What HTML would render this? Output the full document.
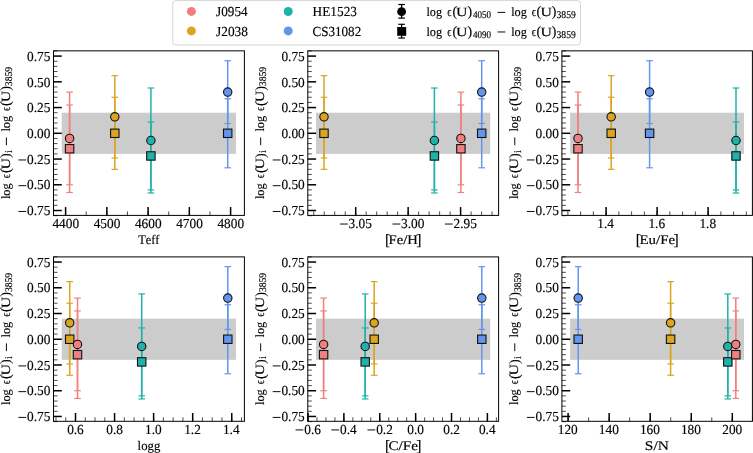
<!DOCTYPE html>
<html><head><meta charset="utf-8"><style>
html,body{margin:0;padding:0;background:#fff;width:753px;height:453px;overflow:hidden}
svg{display:block;will-change:transform}
text{font-family:"Liberation Serif", serif;fill:#000;font-kerning:none;text-rendering:geometricPrecision;stroke:#000;stroke-width:0.15px;stroke-linejoin:round}
</style></head><body>
<svg width="753" height="453" viewBox="0 0 753 453">
<rect width="753" height="453" fill="#fff"/>
<g>
<rect x="61.70" y="112.71" width="174.30" height="41.18" fill="#cccccc"/>
<line x1="227.70" y1="98.81" x2="227.70" y2="167.79" stroke="#6495ED" stroke-width="1.5"/>
<line x1="224.40" y1="98.81" x2="231.00" y2="98.81" stroke="#6495ED" stroke-width="1.2"/>
<line x1="224.40" y1="167.79" x2="231.00" y2="167.79" stroke="#6495ED" stroke-width="1.2"/>
<line x1="227.70" y1="60.72" x2="227.70" y2="123.52" stroke="#6495ED" stroke-width="1.5"/>
<line x1="224.40" y1="60.72" x2="231.00" y2="60.72" stroke="#6495ED" stroke-width="1.2"/>
<line x1="224.40" y1="123.52" x2="231.00" y2="123.52" stroke="#6495ED" stroke-width="1.2"/>
<rect x="223.50" y="129.10" width="8.4" height="8.4" fill="#6495ED" stroke="#111" stroke-width="1.1"/>
<circle cx="227.70" cy="92.12" r="4.2" fill="#6495ED" stroke="#111" stroke-width="1.1"/>
<line x1="150.90" y1="121.98" x2="150.90" y2="189.92" stroke="#20B2AA" stroke-width="1.5"/>
<line x1="147.60" y1="121.98" x2="154.20" y2="121.98" stroke="#20B2AA" stroke-width="1.2"/>
<line x1="147.60" y1="189.92" x2="154.20" y2="189.92" stroke="#20B2AA" stroke-width="1.2"/>
<line x1="150.90" y1="88.00" x2="150.90" y2="193.01" stroke="#20B2AA" stroke-width="1.5"/>
<line x1="147.60" y1="88.00" x2="154.20" y2="88.00" stroke="#20B2AA" stroke-width="1.2"/>
<line x1="147.60" y1="193.01" x2="154.20" y2="193.01" stroke="#20B2AA" stroke-width="1.2"/>
<rect x="146.70" y="151.75" width="8.4" height="8.4" fill="#20B2AA" stroke="#111" stroke-width="1.1"/>
<circle cx="150.90" cy="140.51" r="4.2" fill="#20B2AA" stroke="#111" stroke-width="1.1"/>
<line x1="114.80" y1="97.27" x2="114.80" y2="169.33" stroke="#DAA520" stroke-width="1.5"/>
<line x1="111.50" y1="97.27" x2="118.10" y2="97.27" stroke="#DAA520" stroke-width="1.2"/>
<line x1="111.50" y1="169.33" x2="118.10" y2="169.33" stroke="#DAA520" stroke-width="1.2"/>
<line x1="114.80" y1="75.65" x2="114.80" y2="158.01" stroke="#DAA520" stroke-width="1.5"/>
<line x1="111.50" y1="75.65" x2="118.10" y2="75.65" stroke="#DAA520" stroke-width="1.2"/>
<line x1="111.50" y1="158.01" x2="118.10" y2="158.01" stroke="#DAA520" stroke-width="1.2"/>
<rect x="110.60" y="129.10" width="8.4" height="8.4" fill="#DAA520" stroke="#111" stroke-width="1.1"/>
<circle cx="114.80" cy="116.83" r="4.2" fill="#DAA520" stroke="#111" stroke-width="1.1"/>
<line x1="69.60" y1="104.99" x2="69.60" y2="192.50" stroke="#F08080" stroke-width="1.5"/>
<line x1="66.30" y1="104.99" x2="72.90" y2="104.99" stroke="#F08080" stroke-width="1.2"/>
<line x1="66.30" y1="192.50" x2="72.90" y2="192.50" stroke="#F08080" stroke-width="1.2"/>
<line x1="69.60" y1="92.12" x2="69.60" y2="184.78" stroke="#F08080" stroke-width="1.5"/>
<line x1="66.30" y1="92.12" x2="72.90" y2="92.12" stroke="#F08080" stroke-width="1.2"/>
<line x1="66.30" y1="184.78" x2="72.90" y2="184.78" stroke="#F08080" stroke-width="1.2"/>
<rect x="65.40" y="144.54" width="8.4" height="8.4" fill="#F08080" stroke="#111" stroke-width="1.1"/>
<circle cx="69.60" cy="138.45" r="4.2" fill="#F08080" stroke="#111" stroke-width="1.1"/>
<line x1="53.50" y1="215.66" x2="57.50" y2="215.66" stroke="#000" stroke-width="0.7"/>
<line x1="53.50" y1="210.51" x2="61.80" y2="210.51" stroke="#000" stroke-width="1.5"/>
<line x1="53.50" y1="205.37" x2="57.50" y2="205.37" stroke="#000" stroke-width="0.7"/>
<line x1="53.50" y1="200.22" x2="57.50" y2="200.22" stroke="#000" stroke-width="0.7"/>
<line x1="53.50" y1="195.07" x2="57.50" y2="195.07" stroke="#000" stroke-width="0.7"/>
<line x1="53.50" y1="189.92" x2="57.50" y2="189.92" stroke="#000" stroke-width="0.7"/>
<line x1="53.50" y1="184.78" x2="61.80" y2="184.78" stroke="#000" stroke-width="1.5"/>
<line x1="53.50" y1="179.63" x2="57.50" y2="179.63" stroke="#000" stroke-width="0.7"/>
<line x1="53.50" y1="174.48" x2="57.50" y2="174.48" stroke="#000" stroke-width="0.7"/>
<line x1="53.50" y1="169.33" x2="57.50" y2="169.33" stroke="#000" stroke-width="0.7"/>
<line x1="53.50" y1="164.19" x2="57.50" y2="164.19" stroke="#000" stroke-width="0.7"/>
<line x1="53.50" y1="159.04" x2="61.80" y2="159.04" stroke="#000" stroke-width="1.5"/>
<line x1="53.50" y1="153.89" x2="57.50" y2="153.89" stroke="#000" stroke-width="0.7"/>
<line x1="53.50" y1="148.74" x2="57.50" y2="148.74" stroke="#000" stroke-width="0.7"/>
<line x1="53.50" y1="143.59" x2="57.50" y2="143.59" stroke="#000" stroke-width="0.7"/>
<line x1="53.50" y1="138.45" x2="57.50" y2="138.45" stroke="#000" stroke-width="0.7"/>
<line x1="53.50" y1="133.30" x2="61.80" y2="133.30" stroke="#000" stroke-width="1.5"/>
<line x1="53.50" y1="128.15" x2="57.50" y2="128.15" stroke="#000" stroke-width="0.7"/>
<line x1="53.50" y1="123.01" x2="57.50" y2="123.01" stroke="#000" stroke-width="0.7"/>
<line x1="53.50" y1="117.86" x2="57.50" y2="117.86" stroke="#000" stroke-width="0.7"/>
<line x1="53.50" y1="112.71" x2="57.50" y2="112.71" stroke="#000" stroke-width="0.7"/>
<line x1="53.50" y1="107.56" x2="61.80" y2="107.56" stroke="#000" stroke-width="1.5"/>
<line x1="53.50" y1="102.42" x2="57.50" y2="102.42" stroke="#000" stroke-width="0.7"/>
<line x1="53.50" y1="97.27" x2="57.50" y2="97.27" stroke="#000" stroke-width="0.7"/>
<line x1="53.50" y1="92.12" x2="57.50" y2="92.12" stroke="#000" stroke-width="0.7"/>
<line x1="53.50" y1="86.97" x2="57.50" y2="86.97" stroke="#000" stroke-width="0.7"/>
<line x1="53.50" y1="81.83" x2="61.80" y2="81.83" stroke="#000" stroke-width="1.5"/>
<line x1="53.50" y1="76.68" x2="57.50" y2="76.68" stroke="#000" stroke-width="0.7"/>
<line x1="53.50" y1="71.53" x2="57.50" y2="71.53" stroke="#000" stroke-width="0.7"/>
<line x1="53.50" y1="66.38" x2="57.50" y2="66.38" stroke="#000" stroke-width="0.7"/>
<line x1="53.50" y1="61.24" x2="57.50" y2="61.24" stroke="#000" stroke-width="0.7"/>
<line x1="53.50" y1="56.09" x2="61.80" y2="56.09" stroke="#000" stroke-width="1.5"/>
<line x1="53.50" y1="50.94" x2="57.50" y2="50.94" stroke="#000" stroke-width="0.7"/>
<line x1="65.60" y1="215.40" x2="65.60" y2="211.40" stroke="#000" stroke-width="0.7"/>
<line x1="86.22" y1="215.40" x2="86.22" y2="211.40" stroke="#000" stroke-width="0.7"/>
<line x1="106.85" y1="215.40" x2="106.85" y2="211.40" stroke="#000" stroke-width="0.7"/>
<line x1="127.47" y1="215.40" x2="127.47" y2="211.40" stroke="#000" stroke-width="0.7"/>
<line x1="148.10" y1="215.40" x2="148.10" y2="211.40" stroke="#000" stroke-width="0.7"/>
<line x1="168.72" y1="215.40" x2="168.72" y2="211.40" stroke="#000" stroke-width="0.7"/>
<line x1="189.35" y1="215.40" x2="189.35" y2="211.40" stroke="#000" stroke-width="0.7"/>
<line x1="209.97" y1="215.40" x2="209.97" y2="211.40" stroke="#000" stroke-width="0.7"/>
<line x1="230.60" y1="215.40" x2="230.60" y2="211.40" stroke="#000" stroke-width="0.7"/>
<line x1="65.60" y1="215.40" x2="65.60" y2="207.10" stroke="#000" stroke-width="1.5"/>
<line x1="106.85" y1="215.40" x2="106.85" y2="207.10" stroke="#000" stroke-width="1.5"/>
<line x1="148.10" y1="215.40" x2="148.10" y2="207.10" stroke="#000" stroke-width="1.5"/>
<line x1="189.35" y1="215.40" x2="189.35" y2="207.10" stroke="#000" stroke-width="1.5"/>
<line x1="230.60" y1="215.40" x2="230.60" y2="207.10" stroke="#000" stroke-width="1.5"/>
<rect x="53.50" y="50.85" width="190.90" height="164.55" fill="none" stroke="#000" stroke-width="1.0"/>
<rect x="18.42" y="210.96" width="7.80" height="0.95" fill="#000"/>
<text transform="translate(27.62,215.21) scale(0.9650,1)" x="-0.53" y="0" font-size="13.80">0.75</text>
<rect x="18.41" y="185.22" width="7.80" height="0.95" fill="#000"/>
<text transform="translate(27.61,189.47) scale(0.9650,1)" x="-0.53" y="0" font-size="13.80">0.50</text>
<rect x="18.42" y="159.49" width="7.80" height="0.95" fill="#000"/>
<text transform="translate(27.62,163.74) scale(0.9650,1)" x="-0.53" y="0" font-size="13.80">0.25</text>
<text transform="translate(27.61,138.00) scale(0.9650,1)" x="-0.53" y="0" font-size="13.80">0.00</text>
<text transform="translate(27.62,112.26) scale(0.9650,1)" x="-0.53" y="0" font-size="13.80">0.25</text>
<text transform="translate(27.61,86.53) scale(0.9650,1)" x="-0.53" y="0" font-size="13.80">0.50</text>
<text transform="translate(27.62,60.79) scale(0.9650,1)" x="-0.53" y="0" font-size="13.80">0.75</text>
<text transform="translate(52.67,227.80) scale(0.9650,1)" x="-0.27" y="0" font-size="13.80">4400</text>
<text transform="translate(93.92,227.80) scale(0.9650,1)" x="-0.27" y="0" font-size="13.80">4500</text>
<text transform="translate(135.17,227.80) scale(0.9650,1)" x="-0.27" y="0" font-size="13.80">4600</text>
<text transform="translate(176.42,227.80) scale(0.9650,1)" x="-0.27" y="0" font-size="13.80">4700</text>
<text transform="translate(217.67,227.80) scale(0.9650,1)" x="-0.27" y="0" font-size="13.80">4800</text>
<text transform="translate(138.45,243.60) scale(0.9415,1)" x="-0.24" y="0" font-size="13.10">Teff</text>
<g transform="translate(9.90,198.80) rotate(-90)">
<text transform="translate(0.00,0.00) scale(0.9738,1)" x="-0.25" y="0" font-size="12.60">log</text>
<text transform="translate(21.00,0.00) scale(0.8265,1)" x="-0.48" y="0" font-size="12.60">ϵ</text>
<text transform="translate(26.40,0.30) scale(0.9650,1)" x="-0.63" y="0" font-size="14.36">(</text>
<text transform="translate(29.60,0.00) scale(1.2602,1)" x="-0.26" y="0" font-size="12.60">U</text>
<text transform="translate(41.30,0.30) scale(0.9650,1)" x="-0.46" y="0" font-size="14.36">)</text>
<text transform="translate(46.00,2.20) scale(0.9650,1)" x="-0.22" y="0" font-size="10.30">i</text>
<rect x="53.60" y="-4.0" width="7.8" height="0.95" fill="#000"/>
<text transform="translate(67.50,0.00) scale(0.9738,1)" x="-0.25" y="0" font-size="12.60">log</text>
<text transform="translate(88.30,0.00) scale(0.8265,1)" x="-0.48" y="0" font-size="12.60">ϵ</text>
<text transform="translate(93.30,0.30) scale(0.9650,1)" x="-0.63" y="0" font-size="14.36">(</text>
<text transform="translate(96.90,0.00) scale(1.2602,1)" x="-0.26" y="0" font-size="12.60">U</text>
<text transform="translate(108.40,0.30) scale(0.9650,1)" x="-0.46" y="0" font-size="14.36">)</text>
<text transform="translate(113.10,2.20) scale(0.9347,1)" x="-0.49" y="0" font-size="10.30">3859</text>
</g>
</g>
<g>
<rect x="316.00" y="112.71" width="174.20" height="41.18" fill="#cccccc"/>
<line x1="481.70" y1="98.81" x2="481.70" y2="167.79" stroke="#6495ED" stroke-width="1.5"/>
<line x1="478.40" y1="98.81" x2="485.00" y2="98.81" stroke="#6495ED" stroke-width="1.2"/>
<line x1="478.40" y1="167.79" x2="485.00" y2="167.79" stroke="#6495ED" stroke-width="1.2"/>
<line x1="481.70" y1="60.72" x2="481.70" y2="123.52" stroke="#6495ED" stroke-width="1.5"/>
<line x1="478.40" y1="60.72" x2="485.00" y2="60.72" stroke="#6495ED" stroke-width="1.2"/>
<line x1="478.40" y1="123.52" x2="485.00" y2="123.52" stroke="#6495ED" stroke-width="1.2"/>
<rect x="477.50" y="129.10" width="8.4" height="8.4" fill="#6495ED" stroke="#111" stroke-width="1.1"/>
<circle cx="481.70" cy="92.12" r="4.2" fill="#6495ED" stroke="#111" stroke-width="1.1"/>
<line x1="434.40" y1="121.98" x2="434.40" y2="189.92" stroke="#20B2AA" stroke-width="1.5"/>
<line x1="431.10" y1="121.98" x2="437.70" y2="121.98" stroke="#20B2AA" stroke-width="1.2"/>
<line x1="431.10" y1="189.92" x2="437.70" y2="189.92" stroke="#20B2AA" stroke-width="1.2"/>
<line x1="434.40" y1="88.00" x2="434.40" y2="193.01" stroke="#20B2AA" stroke-width="1.5"/>
<line x1="431.10" y1="88.00" x2="437.70" y2="88.00" stroke="#20B2AA" stroke-width="1.2"/>
<line x1="431.10" y1="193.01" x2="437.70" y2="193.01" stroke="#20B2AA" stroke-width="1.2"/>
<rect x="430.20" y="151.75" width="8.4" height="8.4" fill="#20B2AA" stroke="#111" stroke-width="1.1"/>
<circle cx="434.40" cy="140.51" r="4.2" fill="#20B2AA" stroke="#111" stroke-width="1.1"/>
<line x1="324.00" y1="97.27" x2="324.00" y2="169.33" stroke="#DAA520" stroke-width="1.5"/>
<line x1="320.70" y1="97.27" x2="327.30" y2="97.27" stroke="#DAA520" stroke-width="1.2"/>
<line x1="320.70" y1="169.33" x2="327.30" y2="169.33" stroke="#DAA520" stroke-width="1.2"/>
<line x1="324.00" y1="75.65" x2="324.00" y2="158.01" stroke="#DAA520" stroke-width="1.5"/>
<line x1="320.70" y1="75.65" x2="327.30" y2="75.65" stroke="#DAA520" stroke-width="1.2"/>
<line x1="320.70" y1="158.01" x2="327.30" y2="158.01" stroke="#DAA520" stroke-width="1.2"/>
<rect x="319.80" y="129.10" width="8.4" height="8.4" fill="#DAA520" stroke="#111" stroke-width="1.1"/>
<circle cx="324.00" cy="116.83" r="4.2" fill="#DAA520" stroke="#111" stroke-width="1.1"/>
<line x1="460.90" y1="104.99" x2="460.90" y2="192.50" stroke="#F08080" stroke-width="1.5"/>
<line x1="457.60" y1="104.99" x2="464.20" y2="104.99" stroke="#F08080" stroke-width="1.2"/>
<line x1="457.60" y1="192.50" x2="464.20" y2="192.50" stroke="#F08080" stroke-width="1.2"/>
<line x1="460.90" y1="92.12" x2="460.90" y2="184.78" stroke="#F08080" stroke-width="1.5"/>
<line x1="457.60" y1="92.12" x2="464.20" y2="92.12" stroke="#F08080" stroke-width="1.2"/>
<line x1="457.60" y1="184.78" x2="464.20" y2="184.78" stroke="#F08080" stroke-width="1.2"/>
<rect x="456.70" y="144.54" width="8.4" height="8.4" fill="#F08080" stroke="#111" stroke-width="1.1"/>
<circle cx="460.90" cy="138.45" r="4.2" fill="#F08080" stroke="#111" stroke-width="1.1"/>
<line x1="307.80" y1="215.66" x2="311.80" y2="215.66" stroke="#000" stroke-width="0.7"/>
<line x1="307.80" y1="210.51" x2="316.10" y2="210.51" stroke="#000" stroke-width="1.5"/>
<line x1="307.80" y1="205.37" x2="311.80" y2="205.37" stroke="#000" stroke-width="0.7"/>
<line x1="307.80" y1="200.22" x2="311.80" y2="200.22" stroke="#000" stroke-width="0.7"/>
<line x1="307.80" y1="195.07" x2="311.80" y2="195.07" stroke="#000" stroke-width="0.7"/>
<line x1="307.80" y1="189.92" x2="311.80" y2="189.92" stroke="#000" stroke-width="0.7"/>
<line x1="307.80" y1="184.78" x2="316.10" y2="184.78" stroke="#000" stroke-width="1.5"/>
<line x1="307.80" y1="179.63" x2="311.80" y2="179.63" stroke="#000" stroke-width="0.7"/>
<line x1="307.80" y1="174.48" x2="311.80" y2="174.48" stroke="#000" stroke-width="0.7"/>
<line x1="307.80" y1="169.33" x2="311.80" y2="169.33" stroke="#000" stroke-width="0.7"/>
<line x1="307.80" y1="164.19" x2="311.80" y2="164.19" stroke="#000" stroke-width="0.7"/>
<line x1="307.80" y1="159.04" x2="316.10" y2="159.04" stroke="#000" stroke-width="1.5"/>
<line x1="307.80" y1="153.89" x2="311.80" y2="153.89" stroke="#000" stroke-width="0.7"/>
<line x1="307.80" y1="148.74" x2="311.80" y2="148.74" stroke="#000" stroke-width="0.7"/>
<line x1="307.80" y1="143.59" x2="311.80" y2="143.59" stroke="#000" stroke-width="0.7"/>
<line x1="307.80" y1="138.45" x2="311.80" y2="138.45" stroke="#000" stroke-width="0.7"/>
<line x1="307.80" y1="133.30" x2="316.10" y2="133.30" stroke="#000" stroke-width="1.5"/>
<line x1="307.80" y1="128.15" x2="311.80" y2="128.15" stroke="#000" stroke-width="0.7"/>
<line x1="307.80" y1="123.01" x2="311.80" y2="123.01" stroke="#000" stroke-width="0.7"/>
<line x1="307.80" y1="117.86" x2="311.80" y2="117.86" stroke="#000" stroke-width="0.7"/>
<line x1="307.80" y1="112.71" x2="311.80" y2="112.71" stroke="#000" stroke-width="0.7"/>
<line x1="307.80" y1="107.56" x2="316.10" y2="107.56" stroke="#000" stroke-width="1.5"/>
<line x1="307.80" y1="102.42" x2="311.80" y2="102.42" stroke="#000" stroke-width="0.7"/>
<line x1="307.80" y1="97.27" x2="311.80" y2="97.27" stroke="#000" stroke-width="0.7"/>
<line x1="307.80" y1="92.12" x2="311.80" y2="92.12" stroke="#000" stroke-width="0.7"/>
<line x1="307.80" y1="86.97" x2="311.80" y2="86.97" stroke="#000" stroke-width="0.7"/>
<line x1="307.80" y1="81.83" x2="316.10" y2="81.83" stroke="#000" stroke-width="1.5"/>
<line x1="307.80" y1="76.68" x2="311.80" y2="76.68" stroke="#000" stroke-width="0.7"/>
<line x1="307.80" y1="71.53" x2="311.80" y2="71.53" stroke="#000" stroke-width="0.7"/>
<line x1="307.80" y1="66.38" x2="311.80" y2="66.38" stroke="#000" stroke-width="0.7"/>
<line x1="307.80" y1="61.24" x2="311.80" y2="61.24" stroke="#000" stroke-width="0.7"/>
<line x1="307.80" y1="56.09" x2="316.10" y2="56.09" stroke="#000" stroke-width="1.5"/>
<line x1="307.80" y1="50.94" x2="311.80" y2="50.94" stroke="#000" stroke-width="0.7"/>
<line x1="313.74" y1="215.40" x2="313.74" y2="211.40" stroke="#000" stroke-width="0.7"/>
<line x1="324.23" y1="215.40" x2="324.23" y2="211.40" stroke="#000" stroke-width="0.7"/>
<line x1="334.72" y1="215.40" x2="334.72" y2="211.40" stroke="#000" stroke-width="0.7"/>
<line x1="345.21" y1="215.40" x2="345.21" y2="211.40" stroke="#000" stroke-width="0.7"/>
<line x1="355.70" y1="215.40" x2="355.70" y2="211.40" stroke="#000" stroke-width="0.7"/>
<line x1="366.19" y1="215.40" x2="366.19" y2="211.40" stroke="#000" stroke-width="0.7"/>
<line x1="376.68" y1="215.40" x2="376.68" y2="211.40" stroke="#000" stroke-width="0.7"/>
<line x1="387.17" y1="215.40" x2="387.17" y2="211.40" stroke="#000" stroke-width="0.7"/>
<line x1="397.66" y1="215.40" x2="397.66" y2="211.40" stroke="#000" stroke-width="0.7"/>
<line x1="408.15" y1="215.40" x2="408.15" y2="211.40" stroke="#000" stroke-width="0.7"/>
<line x1="418.64" y1="215.40" x2="418.64" y2="211.40" stroke="#000" stroke-width="0.7"/>
<line x1="429.13" y1="215.40" x2="429.13" y2="211.40" stroke="#000" stroke-width="0.7"/>
<line x1="439.62" y1="215.40" x2="439.62" y2="211.40" stroke="#000" stroke-width="0.7"/>
<line x1="450.11" y1="215.40" x2="450.11" y2="211.40" stroke="#000" stroke-width="0.7"/>
<line x1="460.60" y1="215.40" x2="460.60" y2="211.40" stroke="#000" stroke-width="0.7"/>
<line x1="471.09" y1="215.40" x2="471.09" y2="211.40" stroke="#000" stroke-width="0.7"/>
<line x1="481.58" y1="215.40" x2="481.58" y2="211.40" stroke="#000" stroke-width="0.7"/>
<line x1="492.07" y1="215.40" x2="492.07" y2="211.40" stroke="#000" stroke-width="0.7"/>
<line x1="355.70" y1="215.40" x2="355.70" y2="207.10" stroke="#000" stroke-width="1.5"/>
<line x1="408.15" y1="215.40" x2="408.15" y2="207.10" stroke="#000" stroke-width="1.5"/>
<line x1="460.60" y1="215.40" x2="460.60" y2="207.10" stroke="#000" stroke-width="1.5"/>
<rect x="307.80" y="50.85" width="190.80" height="164.55" fill="none" stroke="#000" stroke-width="1.0"/>
<rect x="272.72" y="210.96" width="7.80" height="0.95" fill="#000"/>
<text transform="translate(281.92,215.21) scale(0.9650,1)" x="-0.53" y="0" font-size="13.80">0.75</text>
<rect x="272.71" y="185.22" width="7.80" height="0.95" fill="#000"/>
<text transform="translate(281.91,189.47) scale(0.9650,1)" x="-0.53" y="0" font-size="13.80">0.50</text>
<rect x="272.72" y="159.49" width="7.80" height="0.95" fill="#000"/>
<text transform="translate(281.92,163.74) scale(0.9650,1)" x="-0.53" y="0" font-size="13.80">0.25</text>
<text transform="translate(281.91,138.00) scale(0.9650,1)" x="-0.53" y="0" font-size="13.80">0.00</text>
<text transform="translate(281.92,112.26) scale(0.9650,1)" x="-0.53" y="0" font-size="13.80">0.25</text>
<text transform="translate(281.91,86.53) scale(0.9650,1)" x="-0.53" y="0" font-size="13.80">0.50</text>
<text transform="translate(281.92,60.79) scale(0.9650,1)" x="-0.53" y="0" font-size="13.80">0.75</text>
<rect x="340.03" y="223.55" width="7.80" height="0.95" fill="#000"/>
<text transform="translate(349.23,227.80) scale(0.9650,1)" x="-0.66" y="0" font-size="13.80">3.05</text>
<rect x="392.47" y="223.55" width="7.80" height="0.95" fill="#000"/>
<text transform="translate(401.67,227.80) scale(0.9650,1)" x="-0.66" y="0" font-size="13.80">3.00</text>
<rect x="444.90" y="223.55" width="7.80" height="0.95" fill="#000"/>
<text transform="translate(454.10,227.80) scale(0.9650,1)" x="-0.61" y="0" font-size="13.80">2.95</text>
<text transform="translate(386.00,244.80) scale(0.9650,1)" x="-1.17" y="0" font-size="15.72">[</text>
<text transform="translate(389.00,243.60) scale(1.1203,1)" x="-0.38" y="0" font-size="13.10">Fe/H</text>
<text transform="translate(416.90,244.80) scale(1.0000,1)" x="-0.57" y="0" font-size="15.72">]</text>
<g transform="translate(264.20,198.80) rotate(-90)">
<text transform="translate(0.00,0.00) scale(0.9738,1)" x="-0.25" y="0" font-size="12.60">log</text>
<text transform="translate(21.00,0.00) scale(0.8265,1)" x="-0.48" y="0" font-size="12.60">ϵ</text>
<text transform="translate(26.40,0.30) scale(0.9650,1)" x="-0.63" y="0" font-size="14.36">(</text>
<text transform="translate(29.60,0.00) scale(1.2602,1)" x="-0.26" y="0" font-size="12.60">U</text>
<text transform="translate(41.30,0.30) scale(0.9650,1)" x="-0.46" y="0" font-size="14.36">)</text>
<text transform="translate(46.00,2.20) scale(0.9650,1)" x="-0.22" y="0" font-size="10.30">i</text>
<rect x="53.60" y="-4.0" width="7.8" height="0.95" fill="#000"/>
<text transform="translate(67.50,0.00) scale(0.9738,1)" x="-0.25" y="0" font-size="12.60">log</text>
<text transform="translate(88.30,0.00) scale(0.8265,1)" x="-0.48" y="0" font-size="12.60">ϵ</text>
<text transform="translate(93.30,0.30) scale(0.9650,1)" x="-0.63" y="0" font-size="14.36">(</text>
<text transform="translate(96.90,0.00) scale(1.2602,1)" x="-0.26" y="0" font-size="12.60">U</text>
<text transform="translate(108.40,0.30) scale(0.9650,1)" x="-0.46" y="0" font-size="14.36">)</text>
<text transform="translate(113.10,2.20) scale(0.9347,1)" x="-0.49" y="0" font-size="10.30">3859</text>
</g>
</g>
<g>
<rect x="570.10" y="112.71" width="173.90" height="41.18" fill="#cccccc"/>
<line x1="649.60" y1="98.81" x2="649.60" y2="167.79" stroke="#6495ED" stroke-width="1.5"/>
<line x1="646.30" y1="98.81" x2="652.90" y2="98.81" stroke="#6495ED" stroke-width="1.2"/>
<line x1="646.30" y1="167.79" x2="652.90" y2="167.79" stroke="#6495ED" stroke-width="1.2"/>
<line x1="649.60" y1="60.72" x2="649.60" y2="123.52" stroke="#6495ED" stroke-width="1.5"/>
<line x1="646.30" y1="60.72" x2="652.90" y2="60.72" stroke="#6495ED" stroke-width="1.2"/>
<line x1="646.30" y1="123.52" x2="652.90" y2="123.52" stroke="#6495ED" stroke-width="1.2"/>
<rect x="645.40" y="129.10" width="8.4" height="8.4" fill="#6495ED" stroke="#111" stroke-width="1.1"/>
<circle cx="649.60" cy="92.12" r="4.2" fill="#6495ED" stroke="#111" stroke-width="1.1"/>
<line x1="736.00" y1="121.98" x2="736.00" y2="189.92" stroke="#20B2AA" stroke-width="1.5"/>
<line x1="732.70" y1="121.98" x2="739.30" y2="121.98" stroke="#20B2AA" stroke-width="1.2"/>
<line x1="732.70" y1="189.92" x2="739.30" y2="189.92" stroke="#20B2AA" stroke-width="1.2"/>
<line x1="736.00" y1="88.00" x2="736.00" y2="193.01" stroke="#20B2AA" stroke-width="1.5"/>
<line x1="732.70" y1="88.00" x2="739.30" y2="88.00" stroke="#20B2AA" stroke-width="1.2"/>
<line x1="732.70" y1="193.01" x2="739.30" y2="193.01" stroke="#20B2AA" stroke-width="1.2"/>
<rect x="731.80" y="151.75" width="8.4" height="8.4" fill="#20B2AA" stroke="#111" stroke-width="1.1"/>
<circle cx="736.00" cy="140.51" r="4.2" fill="#20B2AA" stroke="#111" stroke-width="1.1"/>
<line x1="611.20" y1="97.27" x2="611.20" y2="169.33" stroke="#DAA520" stroke-width="1.5"/>
<line x1="607.90" y1="97.27" x2="614.50" y2="97.27" stroke="#DAA520" stroke-width="1.2"/>
<line x1="607.90" y1="169.33" x2="614.50" y2="169.33" stroke="#DAA520" stroke-width="1.2"/>
<line x1="611.20" y1="75.65" x2="611.20" y2="158.01" stroke="#DAA520" stroke-width="1.5"/>
<line x1="607.90" y1="75.65" x2="614.50" y2="75.65" stroke="#DAA520" stroke-width="1.2"/>
<line x1="607.90" y1="158.01" x2="614.50" y2="158.01" stroke="#DAA520" stroke-width="1.2"/>
<rect x="607.00" y="129.10" width="8.4" height="8.4" fill="#DAA520" stroke="#111" stroke-width="1.1"/>
<circle cx="611.20" cy="116.83" r="4.2" fill="#DAA520" stroke="#111" stroke-width="1.1"/>
<line x1="578.00" y1="104.99" x2="578.00" y2="192.50" stroke="#F08080" stroke-width="1.5"/>
<line x1="574.70" y1="104.99" x2="581.30" y2="104.99" stroke="#F08080" stroke-width="1.2"/>
<line x1="574.70" y1="192.50" x2="581.30" y2="192.50" stroke="#F08080" stroke-width="1.2"/>
<line x1="578.00" y1="92.12" x2="578.00" y2="184.78" stroke="#F08080" stroke-width="1.5"/>
<line x1="574.70" y1="92.12" x2="581.30" y2="92.12" stroke="#F08080" stroke-width="1.2"/>
<line x1="574.70" y1="184.78" x2="581.30" y2="184.78" stroke="#F08080" stroke-width="1.2"/>
<rect x="573.80" y="144.54" width="8.4" height="8.4" fill="#F08080" stroke="#111" stroke-width="1.1"/>
<circle cx="578.00" cy="138.45" r="4.2" fill="#F08080" stroke="#111" stroke-width="1.1"/>
<line x1="561.90" y1="215.66" x2="565.90" y2="215.66" stroke="#000" stroke-width="0.7"/>
<line x1="561.90" y1="210.51" x2="570.20" y2="210.51" stroke="#000" stroke-width="1.5"/>
<line x1="561.90" y1="205.37" x2="565.90" y2="205.37" stroke="#000" stroke-width="0.7"/>
<line x1="561.90" y1="200.22" x2="565.90" y2="200.22" stroke="#000" stroke-width="0.7"/>
<line x1="561.90" y1="195.07" x2="565.90" y2="195.07" stroke="#000" stroke-width="0.7"/>
<line x1="561.90" y1="189.92" x2="565.90" y2="189.92" stroke="#000" stroke-width="0.7"/>
<line x1="561.90" y1="184.78" x2="570.20" y2="184.78" stroke="#000" stroke-width="1.5"/>
<line x1="561.90" y1="179.63" x2="565.90" y2="179.63" stroke="#000" stroke-width="0.7"/>
<line x1="561.90" y1="174.48" x2="565.90" y2="174.48" stroke="#000" stroke-width="0.7"/>
<line x1="561.90" y1="169.33" x2="565.90" y2="169.33" stroke="#000" stroke-width="0.7"/>
<line x1="561.90" y1="164.19" x2="565.90" y2="164.19" stroke="#000" stroke-width="0.7"/>
<line x1="561.90" y1="159.04" x2="570.20" y2="159.04" stroke="#000" stroke-width="1.5"/>
<line x1="561.90" y1="153.89" x2="565.90" y2="153.89" stroke="#000" stroke-width="0.7"/>
<line x1="561.90" y1="148.74" x2="565.90" y2="148.74" stroke="#000" stroke-width="0.7"/>
<line x1="561.90" y1="143.59" x2="565.90" y2="143.59" stroke="#000" stroke-width="0.7"/>
<line x1="561.90" y1="138.45" x2="565.90" y2="138.45" stroke="#000" stroke-width="0.7"/>
<line x1="561.90" y1="133.30" x2="570.20" y2="133.30" stroke="#000" stroke-width="1.5"/>
<line x1="561.90" y1="128.15" x2="565.90" y2="128.15" stroke="#000" stroke-width="0.7"/>
<line x1="561.90" y1="123.01" x2="565.90" y2="123.01" stroke="#000" stroke-width="0.7"/>
<line x1="561.90" y1="117.86" x2="565.90" y2="117.86" stroke="#000" stroke-width="0.7"/>
<line x1="561.90" y1="112.71" x2="565.90" y2="112.71" stroke="#000" stroke-width="0.7"/>
<line x1="561.90" y1="107.56" x2="570.20" y2="107.56" stroke="#000" stroke-width="1.5"/>
<line x1="561.90" y1="102.42" x2="565.90" y2="102.42" stroke="#000" stroke-width="0.7"/>
<line x1="561.90" y1="97.27" x2="565.90" y2="97.27" stroke="#000" stroke-width="0.7"/>
<line x1="561.90" y1="92.12" x2="565.90" y2="92.12" stroke="#000" stroke-width="0.7"/>
<line x1="561.90" y1="86.97" x2="565.90" y2="86.97" stroke="#000" stroke-width="0.7"/>
<line x1="561.90" y1="81.83" x2="570.20" y2="81.83" stroke="#000" stroke-width="1.5"/>
<line x1="561.90" y1="76.68" x2="565.90" y2="76.68" stroke="#000" stroke-width="0.7"/>
<line x1="561.90" y1="71.53" x2="565.90" y2="71.53" stroke="#000" stroke-width="0.7"/>
<line x1="561.90" y1="66.38" x2="565.90" y2="66.38" stroke="#000" stroke-width="0.7"/>
<line x1="561.90" y1="61.24" x2="565.90" y2="61.24" stroke="#000" stroke-width="0.7"/>
<line x1="561.90" y1="56.09" x2="570.20" y2="56.09" stroke="#000" stroke-width="1.5"/>
<line x1="561.90" y1="50.94" x2="565.90" y2="50.94" stroke="#000" stroke-width="0.7"/>
<line x1="567.85" y1="215.40" x2="567.85" y2="211.40" stroke="#000" stroke-width="0.7"/>
<line x1="580.60" y1="215.40" x2="580.60" y2="211.40" stroke="#000" stroke-width="0.7"/>
<line x1="593.35" y1="215.40" x2="593.35" y2="211.40" stroke="#000" stroke-width="0.7"/>
<line x1="606.10" y1="215.40" x2="606.10" y2="211.40" stroke="#000" stroke-width="0.7"/>
<line x1="618.85" y1="215.40" x2="618.85" y2="211.40" stroke="#000" stroke-width="0.7"/>
<line x1="631.60" y1="215.40" x2="631.60" y2="211.40" stroke="#000" stroke-width="0.7"/>
<line x1="644.35" y1="215.40" x2="644.35" y2="211.40" stroke="#000" stroke-width="0.7"/>
<line x1="657.10" y1="215.40" x2="657.10" y2="211.40" stroke="#000" stroke-width="0.7"/>
<line x1="669.85" y1="215.40" x2="669.85" y2="211.40" stroke="#000" stroke-width="0.7"/>
<line x1="682.60" y1="215.40" x2="682.60" y2="211.40" stroke="#000" stroke-width="0.7"/>
<line x1="695.35" y1="215.40" x2="695.35" y2="211.40" stroke="#000" stroke-width="0.7"/>
<line x1="708.10" y1="215.40" x2="708.10" y2="211.40" stroke="#000" stroke-width="0.7"/>
<line x1="720.85" y1="215.40" x2="720.85" y2="211.40" stroke="#000" stroke-width="0.7"/>
<line x1="733.60" y1="215.40" x2="733.60" y2="211.40" stroke="#000" stroke-width="0.7"/>
<line x1="746.35" y1="215.40" x2="746.35" y2="211.40" stroke="#000" stroke-width="0.7"/>
<line x1="606.10" y1="215.40" x2="606.10" y2="207.10" stroke="#000" stroke-width="1.5"/>
<line x1="657.10" y1="215.40" x2="657.10" y2="207.10" stroke="#000" stroke-width="1.5"/>
<line x1="708.10" y1="215.40" x2="708.10" y2="207.10" stroke="#000" stroke-width="1.5"/>
<rect x="561.90" y="50.85" width="190.50" height="164.55" fill="none" stroke="#000" stroke-width="1.0"/>
<rect x="526.82" y="210.96" width="7.80" height="0.95" fill="#000"/>
<text transform="translate(536.02,215.21) scale(0.9650,1)" x="-0.53" y="0" font-size="13.80">0.75</text>
<rect x="526.81" y="185.22" width="7.80" height="0.95" fill="#000"/>
<text transform="translate(536.01,189.47) scale(0.9650,1)" x="-0.53" y="0" font-size="13.80">0.50</text>
<rect x="526.82" y="159.49" width="7.80" height="0.95" fill="#000"/>
<text transform="translate(536.02,163.74) scale(0.9650,1)" x="-0.53" y="0" font-size="13.80">0.25</text>
<text transform="translate(536.01,138.00) scale(0.9650,1)" x="-0.53" y="0" font-size="13.80">0.00</text>
<text transform="translate(536.02,112.26) scale(0.9650,1)" x="-0.53" y="0" font-size="13.80">0.25</text>
<text transform="translate(536.01,86.53) scale(0.9650,1)" x="-0.53" y="0" font-size="13.80">0.50</text>
<text transform="translate(536.02,60.79) scale(0.9650,1)" x="-0.53" y="0" font-size="13.80">0.75</text>
<text transform="translate(598.47,227.80) scale(0.9650,1)" x="-1.21" y="0" font-size="13.80">1.4</text>
<text transform="translate(649.56,227.80) scale(0.9650,1)" x="-1.21" y="0" font-size="13.80">1.6</text>
<text transform="translate(700.62,227.80) scale(0.9650,1)" x="-1.21" y="0" font-size="13.80">1.8</text>
<text transform="translate(636.85,244.80) scale(0.9650,1)" x="-1.17" y="0" font-size="15.72">[</text>
<text transform="translate(639.85,243.60) scale(1.1392,1)" x="-0.38" y="0" font-size="13.10">Eu/Fe</text>
<text transform="translate(673.95,244.80) scale(1.0000,1)" x="-0.57" y="0" font-size="15.72">]</text>
<g transform="translate(518.30,198.80) rotate(-90)">
<text transform="translate(0.00,0.00) scale(0.9738,1)" x="-0.25" y="0" font-size="12.60">log</text>
<text transform="translate(21.00,0.00) scale(0.8265,1)" x="-0.48" y="0" font-size="12.60">ϵ</text>
<text transform="translate(26.40,0.30) scale(0.9650,1)" x="-0.63" y="0" font-size="14.36">(</text>
<text transform="translate(29.60,0.00) scale(1.2602,1)" x="-0.26" y="0" font-size="12.60">U</text>
<text transform="translate(41.30,0.30) scale(0.9650,1)" x="-0.46" y="0" font-size="14.36">)</text>
<text transform="translate(46.00,2.20) scale(0.9650,1)" x="-0.22" y="0" font-size="10.30">i</text>
<rect x="53.60" y="-4.0" width="7.8" height="0.95" fill="#000"/>
<text transform="translate(67.50,0.00) scale(0.9738,1)" x="-0.25" y="0" font-size="12.60">log</text>
<text transform="translate(88.30,0.00) scale(0.8265,1)" x="-0.48" y="0" font-size="12.60">ϵ</text>
<text transform="translate(93.30,0.30) scale(0.9650,1)" x="-0.63" y="0" font-size="14.36">(</text>
<text transform="translate(96.90,0.00) scale(1.2602,1)" x="-0.26" y="0" font-size="12.60">U</text>
<text transform="translate(108.40,0.30) scale(0.9650,1)" x="-0.46" y="0" font-size="14.36">)</text>
<text transform="translate(113.10,2.20) scale(0.9347,1)" x="-0.49" y="0" font-size="10.30">3859</text>
</g>
</g>
<g>
<rect x="61.70" y="318.66" width="174.30" height="41.18" fill="#cccccc"/>
<line x1="227.80" y1="304.76" x2="227.80" y2="373.74" stroke="#6495ED" stroke-width="1.5"/>
<line x1="224.50" y1="304.76" x2="231.10" y2="304.76" stroke="#6495ED" stroke-width="1.2"/>
<line x1="224.50" y1="373.74" x2="231.10" y2="373.74" stroke="#6495ED" stroke-width="1.2"/>
<line x1="227.80" y1="266.67" x2="227.80" y2="329.47" stroke="#6495ED" stroke-width="1.5"/>
<line x1="224.50" y1="266.67" x2="231.10" y2="266.67" stroke="#6495ED" stroke-width="1.2"/>
<line x1="224.50" y1="329.47" x2="231.10" y2="329.47" stroke="#6495ED" stroke-width="1.2"/>
<rect x="223.60" y="335.05" width="8.4" height="8.4" fill="#6495ED" stroke="#111" stroke-width="1.1"/>
<circle cx="227.80" cy="298.07" r="4.2" fill="#6495ED" stroke="#111" stroke-width="1.1"/>
<line x1="141.70" y1="327.93" x2="141.70" y2="395.87" stroke="#20B2AA" stroke-width="1.5"/>
<line x1="138.40" y1="327.93" x2="145.00" y2="327.93" stroke="#20B2AA" stroke-width="1.2"/>
<line x1="138.40" y1="395.87" x2="145.00" y2="395.87" stroke="#20B2AA" stroke-width="1.2"/>
<line x1="141.70" y1="293.95" x2="141.70" y2="398.96" stroke="#20B2AA" stroke-width="1.5"/>
<line x1="138.40" y1="293.95" x2="145.00" y2="293.95" stroke="#20B2AA" stroke-width="1.2"/>
<line x1="138.40" y1="398.96" x2="145.00" y2="398.96" stroke="#20B2AA" stroke-width="1.2"/>
<rect x="137.50" y="357.70" width="8.4" height="8.4" fill="#20B2AA" stroke="#111" stroke-width="1.1"/>
<circle cx="141.70" cy="346.46" r="4.2" fill="#20B2AA" stroke="#111" stroke-width="1.1"/>
<line x1="69.70" y1="303.22" x2="69.70" y2="375.28" stroke="#DAA520" stroke-width="1.5"/>
<line x1="66.40" y1="303.22" x2="73.00" y2="303.22" stroke="#DAA520" stroke-width="1.2"/>
<line x1="66.40" y1="375.28" x2="73.00" y2="375.28" stroke="#DAA520" stroke-width="1.2"/>
<line x1="69.70" y1="281.60" x2="69.70" y2="363.96" stroke="#DAA520" stroke-width="1.5"/>
<line x1="66.40" y1="281.60" x2="73.00" y2="281.60" stroke="#DAA520" stroke-width="1.2"/>
<line x1="66.40" y1="363.96" x2="73.00" y2="363.96" stroke="#DAA520" stroke-width="1.2"/>
<rect x="65.50" y="335.05" width="8.4" height="8.4" fill="#DAA520" stroke="#111" stroke-width="1.1"/>
<circle cx="69.70" cy="322.78" r="4.2" fill="#DAA520" stroke="#111" stroke-width="1.1"/>
<line x1="77.50" y1="310.94" x2="77.50" y2="398.45" stroke="#F08080" stroke-width="1.5"/>
<line x1="74.20" y1="310.94" x2="80.80" y2="310.94" stroke="#F08080" stroke-width="1.2"/>
<line x1="74.20" y1="398.45" x2="80.80" y2="398.45" stroke="#F08080" stroke-width="1.2"/>
<line x1="77.50" y1="298.07" x2="77.50" y2="390.73" stroke="#F08080" stroke-width="1.5"/>
<line x1="74.20" y1="298.07" x2="80.80" y2="298.07" stroke="#F08080" stroke-width="1.2"/>
<line x1="74.20" y1="390.73" x2="80.80" y2="390.73" stroke="#F08080" stroke-width="1.2"/>
<rect x="73.30" y="350.49" width="8.4" height="8.4" fill="#F08080" stroke="#111" stroke-width="1.1"/>
<circle cx="77.50" cy="344.40" r="4.2" fill="#F08080" stroke="#111" stroke-width="1.1"/>
<line x1="53.50" y1="421.61" x2="57.50" y2="421.61" stroke="#000" stroke-width="0.7"/>
<line x1="53.50" y1="416.46" x2="61.80" y2="416.46" stroke="#000" stroke-width="1.5"/>
<line x1="53.50" y1="411.31" x2="57.50" y2="411.31" stroke="#000" stroke-width="0.7"/>
<line x1="53.50" y1="406.17" x2="57.50" y2="406.17" stroke="#000" stroke-width="0.7"/>
<line x1="53.50" y1="401.02" x2="57.50" y2="401.02" stroke="#000" stroke-width="0.7"/>
<line x1="53.50" y1="395.87" x2="57.50" y2="395.87" stroke="#000" stroke-width="0.7"/>
<line x1="53.50" y1="390.73" x2="61.80" y2="390.73" stroke="#000" stroke-width="1.5"/>
<line x1="53.50" y1="385.58" x2="57.50" y2="385.58" stroke="#000" stroke-width="0.7"/>
<line x1="53.50" y1="380.43" x2="57.50" y2="380.43" stroke="#000" stroke-width="0.7"/>
<line x1="53.50" y1="375.28" x2="57.50" y2="375.28" stroke="#000" stroke-width="0.7"/>
<line x1="53.50" y1="370.13" x2="57.50" y2="370.13" stroke="#000" stroke-width="0.7"/>
<line x1="53.50" y1="364.99" x2="61.80" y2="364.99" stroke="#000" stroke-width="1.5"/>
<line x1="53.50" y1="359.84" x2="57.50" y2="359.84" stroke="#000" stroke-width="0.7"/>
<line x1="53.50" y1="354.69" x2="57.50" y2="354.69" stroke="#000" stroke-width="0.7"/>
<line x1="53.50" y1="349.55" x2="57.50" y2="349.55" stroke="#000" stroke-width="0.7"/>
<line x1="53.50" y1="344.40" x2="57.50" y2="344.40" stroke="#000" stroke-width="0.7"/>
<line x1="53.50" y1="339.25" x2="61.80" y2="339.25" stroke="#000" stroke-width="1.5"/>
<line x1="53.50" y1="334.10" x2="57.50" y2="334.10" stroke="#000" stroke-width="0.7"/>
<line x1="53.50" y1="328.95" x2="57.50" y2="328.95" stroke="#000" stroke-width="0.7"/>
<line x1="53.50" y1="323.81" x2="57.50" y2="323.81" stroke="#000" stroke-width="0.7"/>
<line x1="53.50" y1="318.66" x2="57.50" y2="318.66" stroke="#000" stroke-width="0.7"/>
<line x1="53.50" y1="313.51" x2="61.80" y2="313.51" stroke="#000" stroke-width="1.5"/>
<line x1="53.50" y1="308.37" x2="57.50" y2="308.37" stroke="#000" stroke-width="0.7"/>
<line x1="53.50" y1="303.22" x2="57.50" y2="303.22" stroke="#000" stroke-width="0.7"/>
<line x1="53.50" y1="298.07" x2="57.50" y2="298.07" stroke="#000" stroke-width="0.7"/>
<line x1="53.50" y1="292.92" x2="57.50" y2="292.92" stroke="#000" stroke-width="0.7"/>
<line x1="53.50" y1="287.77" x2="61.80" y2="287.77" stroke="#000" stroke-width="1.5"/>
<line x1="53.50" y1="282.63" x2="57.50" y2="282.63" stroke="#000" stroke-width="0.7"/>
<line x1="53.50" y1="277.48" x2="57.50" y2="277.48" stroke="#000" stroke-width="0.7"/>
<line x1="53.50" y1="272.33" x2="57.50" y2="272.33" stroke="#000" stroke-width="0.7"/>
<line x1="53.50" y1="267.19" x2="57.50" y2="267.19" stroke="#000" stroke-width="0.7"/>
<line x1="53.50" y1="262.04" x2="61.80" y2="262.04" stroke="#000" stroke-width="1.5"/>
<line x1="53.50" y1="256.89" x2="57.50" y2="256.89" stroke="#000" stroke-width="0.7"/>
<line x1="55.97" y1="421.30" x2="55.97" y2="417.30" stroke="#000" stroke-width="0.7"/>
<line x1="65.74" y1="421.30" x2="65.74" y2="417.30" stroke="#000" stroke-width="0.7"/>
<line x1="75.50" y1="421.30" x2="75.50" y2="417.30" stroke="#000" stroke-width="0.7"/>
<line x1="85.27" y1="421.30" x2="85.27" y2="417.30" stroke="#000" stroke-width="0.7"/>
<line x1="95.03" y1="421.30" x2="95.03" y2="417.30" stroke="#000" stroke-width="0.7"/>
<line x1="104.80" y1="421.30" x2="104.80" y2="417.30" stroke="#000" stroke-width="0.7"/>
<line x1="114.56" y1="421.30" x2="114.56" y2="417.30" stroke="#000" stroke-width="0.7"/>
<line x1="124.33" y1="421.30" x2="124.33" y2="417.30" stroke="#000" stroke-width="0.7"/>
<line x1="134.09" y1="421.30" x2="134.09" y2="417.30" stroke="#000" stroke-width="0.7"/>
<line x1="143.86" y1="421.30" x2="143.86" y2="417.30" stroke="#000" stroke-width="0.7"/>
<line x1="153.62" y1="421.30" x2="153.62" y2="417.30" stroke="#000" stroke-width="0.7"/>
<line x1="163.39" y1="421.30" x2="163.39" y2="417.30" stroke="#000" stroke-width="0.7"/>
<line x1="173.15" y1="421.30" x2="173.15" y2="417.30" stroke="#000" stroke-width="0.7"/>
<line x1="182.91" y1="421.30" x2="182.91" y2="417.30" stroke="#000" stroke-width="0.7"/>
<line x1="192.68" y1="421.30" x2="192.68" y2="417.30" stroke="#000" stroke-width="0.7"/>
<line x1="202.44" y1="421.30" x2="202.44" y2="417.30" stroke="#000" stroke-width="0.7"/>
<line x1="212.21" y1="421.30" x2="212.21" y2="417.30" stroke="#000" stroke-width="0.7"/>
<line x1="221.98" y1="421.30" x2="221.98" y2="417.30" stroke="#000" stroke-width="0.7"/>
<line x1="231.74" y1="421.30" x2="231.74" y2="417.30" stroke="#000" stroke-width="0.7"/>
<line x1="241.51" y1="421.30" x2="241.51" y2="417.30" stroke="#000" stroke-width="0.7"/>
<line x1="75.50" y1="421.30" x2="75.50" y2="413.00" stroke="#000" stroke-width="1.5"/>
<line x1="114.56" y1="421.30" x2="114.56" y2="413.00" stroke="#000" stroke-width="1.5"/>
<line x1="153.62" y1="421.30" x2="153.62" y2="413.00" stroke="#000" stroke-width="1.5"/>
<line x1="192.68" y1="421.30" x2="192.68" y2="413.00" stroke="#000" stroke-width="1.5"/>
<line x1="231.74" y1="421.30" x2="231.74" y2="413.00" stroke="#000" stroke-width="1.5"/>
<rect x="53.50" y="256.90" width="190.90" height="164.40" fill="none" stroke="#000" stroke-width="1.0"/>
<rect x="18.42" y="416.91" width="7.80" height="0.95" fill="#000"/>
<text transform="translate(27.62,421.16) scale(0.9650,1)" x="-0.53" y="0" font-size="13.80">0.75</text>
<rect x="18.41" y="391.18" width="7.80" height="0.95" fill="#000"/>
<text transform="translate(27.61,395.43) scale(0.9650,1)" x="-0.53" y="0" font-size="13.80">0.50</text>
<rect x="18.42" y="365.44" width="7.80" height="0.95" fill="#000"/>
<text transform="translate(27.62,369.69) scale(0.9650,1)" x="-0.53" y="0" font-size="13.80">0.25</text>
<text transform="translate(27.61,343.95) scale(0.9650,1)" x="-0.53" y="0" font-size="13.80">0.00</text>
<text transform="translate(27.62,318.21) scale(0.9650,1)" x="-0.53" y="0" font-size="13.80">0.25</text>
<text transform="translate(27.61,292.47) scale(0.9650,1)" x="-0.53" y="0" font-size="13.80">0.50</text>
<text transform="translate(27.62,266.74) scale(0.9650,1)" x="-0.53" y="0" font-size="13.80">0.75</text>
<text transform="translate(67.63,433.70) scale(0.9650,1)" x="-0.53" y="0" font-size="13.80">0.6</text>
<text transform="translate(106.74,433.70) scale(0.9650,1)" x="-0.53" y="0" font-size="13.80">0.8</text>
<text transform="translate(146.14,433.70) scale(0.9650,1)" x="-1.21" y="0" font-size="13.80">1.0</text>
<text transform="translate(185.31,433.70) scale(0.9650,1)" x="-1.21" y="0" font-size="13.80">1.2</text>
<text transform="translate(224.11,433.70) scale(0.9650,1)" x="-1.21" y="0" font-size="13.80">1.4</text>
<text transform="translate(137.85,449.50) scale(0.9746,1)" x="-0.26" y="0" font-size="13.10">logg</text>
<g transform="translate(9.90,404.75) rotate(-90)">
<text transform="translate(0.00,0.00) scale(0.9738,1)" x="-0.25" y="0" font-size="12.60">log</text>
<text transform="translate(21.00,0.00) scale(0.8265,1)" x="-0.48" y="0" font-size="12.60">ϵ</text>
<text transform="translate(26.40,0.30) scale(0.9650,1)" x="-0.63" y="0" font-size="14.36">(</text>
<text transform="translate(29.60,0.00) scale(1.2602,1)" x="-0.26" y="0" font-size="12.60">U</text>
<text transform="translate(41.30,0.30) scale(0.9650,1)" x="-0.46" y="0" font-size="14.36">)</text>
<text transform="translate(46.00,2.20) scale(0.9650,1)" x="-0.22" y="0" font-size="10.30">i</text>
<rect x="53.60" y="-4.0" width="7.8" height="0.95" fill="#000"/>
<text transform="translate(67.50,0.00) scale(0.9738,1)" x="-0.25" y="0" font-size="12.60">log</text>
<text transform="translate(88.30,0.00) scale(0.8265,1)" x="-0.48" y="0" font-size="12.60">ϵ</text>
<text transform="translate(93.30,0.30) scale(0.9650,1)" x="-0.63" y="0" font-size="14.36">(</text>
<text transform="translate(96.90,0.00) scale(1.2602,1)" x="-0.26" y="0" font-size="12.60">U</text>
<text transform="translate(108.40,0.30) scale(0.9650,1)" x="-0.46" y="0" font-size="14.36">)</text>
<text transform="translate(113.10,2.20) scale(0.9347,1)" x="-0.49" y="0" font-size="10.30">3859</text>
</g>
</g>
<g>
<rect x="316.00" y="318.66" width="174.20" height="41.18" fill="#cccccc"/>
<line x1="481.80" y1="304.76" x2="481.80" y2="373.74" stroke="#6495ED" stroke-width="1.5"/>
<line x1="478.50" y1="304.76" x2="485.10" y2="304.76" stroke="#6495ED" stroke-width="1.2"/>
<line x1="478.50" y1="373.74" x2="485.10" y2="373.74" stroke="#6495ED" stroke-width="1.2"/>
<line x1="481.80" y1="266.67" x2="481.80" y2="329.47" stroke="#6495ED" stroke-width="1.5"/>
<line x1="478.50" y1="266.67" x2="485.10" y2="266.67" stroke="#6495ED" stroke-width="1.2"/>
<line x1="478.50" y1="329.47" x2="485.10" y2="329.47" stroke="#6495ED" stroke-width="1.2"/>
<rect x="477.60" y="335.05" width="8.4" height="8.4" fill="#6495ED" stroke="#111" stroke-width="1.1"/>
<circle cx="481.80" cy="298.07" r="4.2" fill="#6495ED" stroke="#111" stroke-width="1.1"/>
<line x1="365.20" y1="327.93" x2="365.20" y2="395.87" stroke="#20B2AA" stroke-width="1.5"/>
<line x1="361.90" y1="327.93" x2="368.50" y2="327.93" stroke="#20B2AA" stroke-width="1.2"/>
<line x1="361.90" y1="395.87" x2="368.50" y2="395.87" stroke="#20B2AA" stroke-width="1.2"/>
<line x1="365.20" y1="293.95" x2="365.20" y2="398.96" stroke="#20B2AA" stroke-width="1.5"/>
<line x1="361.90" y1="293.95" x2="368.50" y2="293.95" stroke="#20B2AA" stroke-width="1.2"/>
<line x1="361.90" y1="398.96" x2="368.50" y2="398.96" stroke="#20B2AA" stroke-width="1.2"/>
<rect x="361.00" y="357.70" width="8.4" height="8.4" fill="#20B2AA" stroke="#111" stroke-width="1.1"/>
<circle cx="365.20" cy="346.46" r="4.2" fill="#20B2AA" stroke="#111" stroke-width="1.1"/>
<line x1="374.20" y1="303.22" x2="374.20" y2="375.28" stroke="#DAA520" stroke-width="1.5"/>
<line x1="370.90" y1="303.22" x2="377.50" y2="303.22" stroke="#DAA520" stroke-width="1.2"/>
<line x1="370.90" y1="375.28" x2="377.50" y2="375.28" stroke="#DAA520" stroke-width="1.2"/>
<line x1="374.20" y1="281.60" x2="374.20" y2="363.96" stroke="#DAA520" stroke-width="1.5"/>
<line x1="370.90" y1="281.60" x2="377.50" y2="281.60" stroke="#DAA520" stroke-width="1.2"/>
<line x1="370.90" y1="363.96" x2="377.50" y2="363.96" stroke="#DAA520" stroke-width="1.2"/>
<rect x="370.00" y="335.05" width="8.4" height="8.4" fill="#DAA520" stroke="#111" stroke-width="1.1"/>
<circle cx="374.20" cy="322.78" r="4.2" fill="#DAA520" stroke="#111" stroke-width="1.1"/>
<line x1="323.60" y1="310.94" x2="323.60" y2="398.45" stroke="#F08080" stroke-width="1.5"/>
<line x1="320.30" y1="310.94" x2="326.90" y2="310.94" stroke="#F08080" stroke-width="1.2"/>
<line x1="320.30" y1="398.45" x2="326.90" y2="398.45" stroke="#F08080" stroke-width="1.2"/>
<line x1="323.60" y1="298.07" x2="323.60" y2="390.73" stroke="#F08080" stroke-width="1.5"/>
<line x1="320.30" y1="298.07" x2="326.90" y2="298.07" stroke="#F08080" stroke-width="1.2"/>
<line x1="320.30" y1="390.73" x2="326.90" y2="390.73" stroke="#F08080" stroke-width="1.2"/>
<rect x="319.40" y="350.49" width="8.4" height="8.4" fill="#F08080" stroke="#111" stroke-width="1.1"/>
<circle cx="323.60" cy="344.40" r="4.2" fill="#F08080" stroke="#111" stroke-width="1.1"/>
<line x1="307.80" y1="421.61" x2="311.80" y2="421.61" stroke="#000" stroke-width="0.7"/>
<line x1="307.80" y1="416.46" x2="316.10" y2="416.46" stroke="#000" stroke-width="1.5"/>
<line x1="307.80" y1="411.31" x2="311.80" y2="411.31" stroke="#000" stroke-width="0.7"/>
<line x1="307.80" y1="406.17" x2="311.80" y2="406.17" stroke="#000" stroke-width="0.7"/>
<line x1="307.80" y1="401.02" x2="311.80" y2="401.02" stroke="#000" stroke-width="0.7"/>
<line x1="307.80" y1="395.87" x2="311.80" y2="395.87" stroke="#000" stroke-width="0.7"/>
<line x1="307.80" y1="390.73" x2="316.10" y2="390.73" stroke="#000" stroke-width="1.5"/>
<line x1="307.80" y1="385.58" x2="311.80" y2="385.58" stroke="#000" stroke-width="0.7"/>
<line x1="307.80" y1="380.43" x2="311.80" y2="380.43" stroke="#000" stroke-width="0.7"/>
<line x1="307.80" y1="375.28" x2="311.80" y2="375.28" stroke="#000" stroke-width="0.7"/>
<line x1="307.80" y1="370.13" x2="311.80" y2="370.13" stroke="#000" stroke-width="0.7"/>
<line x1="307.80" y1="364.99" x2="316.10" y2="364.99" stroke="#000" stroke-width="1.5"/>
<line x1="307.80" y1="359.84" x2="311.80" y2="359.84" stroke="#000" stroke-width="0.7"/>
<line x1="307.80" y1="354.69" x2="311.80" y2="354.69" stroke="#000" stroke-width="0.7"/>
<line x1="307.80" y1="349.55" x2="311.80" y2="349.55" stroke="#000" stroke-width="0.7"/>
<line x1="307.80" y1="344.40" x2="311.80" y2="344.40" stroke="#000" stroke-width="0.7"/>
<line x1="307.80" y1="339.25" x2="316.10" y2="339.25" stroke="#000" stroke-width="1.5"/>
<line x1="307.80" y1="334.10" x2="311.80" y2="334.10" stroke="#000" stroke-width="0.7"/>
<line x1="307.80" y1="328.95" x2="311.80" y2="328.95" stroke="#000" stroke-width="0.7"/>
<line x1="307.80" y1="323.81" x2="311.80" y2="323.81" stroke="#000" stroke-width="0.7"/>
<line x1="307.80" y1="318.66" x2="311.80" y2="318.66" stroke="#000" stroke-width="0.7"/>
<line x1="307.80" y1="313.51" x2="316.10" y2="313.51" stroke="#000" stroke-width="1.5"/>
<line x1="307.80" y1="308.37" x2="311.80" y2="308.37" stroke="#000" stroke-width="0.7"/>
<line x1="307.80" y1="303.22" x2="311.80" y2="303.22" stroke="#000" stroke-width="0.7"/>
<line x1="307.80" y1="298.07" x2="311.80" y2="298.07" stroke="#000" stroke-width="0.7"/>
<line x1="307.80" y1="292.92" x2="311.80" y2="292.92" stroke="#000" stroke-width="0.7"/>
<line x1="307.80" y1="287.77" x2="316.10" y2="287.77" stroke="#000" stroke-width="1.5"/>
<line x1="307.80" y1="282.63" x2="311.80" y2="282.63" stroke="#000" stroke-width="0.7"/>
<line x1="307.80" y1="277.48" x2="311.80" y2="277.48" stroke="#000" stroke-width="0.7"/>
<line x1="307.80" y1="272.33" x2="311.80" y2="272.33" stroke="#000" stroke-width="0.7"/>
<line x1="307.80" y1="267.19" x2="311.80" y2="267.19" stroke="#000" stroke-width="0.7"/>
<line x1="307.80" y1="262.04" x2="316.10" y2="262.04" stroke="#000" stroke-width="1.5"/>
<line x1="307.80" y1="256.89" x2="311.80" y2="256.89" stroke="#000" stroke-width="0.7"/>
<line x1="308.00" y1="421.30" x2="308.00" y2="417.30" stroke="#000" stroke-width="0.7"/>
<line x1="316.97" y1="421.30" x2="316.97" y2="417.30" stroke="#000" stroke-width="0.7"/>
<line x1="325.94" y1="421.30" x2="325.94" y2="417.30" stroke="#000" stroke-width="0.7"/>
<line x1="334.91" y1="421.30" x2="334.91" y2="417.30" stroke="#000" stroke-width="0.7"/>
<line x1="343.88" y1="421.30" x2="343.88" y2="417.30" stroke="#000" stroke-width="0.7"/>
<line x1="352.85" y1="421.30" x2="352.85" y2="417.30" stroke="#000" stroke-width="0.7"/>
<line x1="361.82" y1="421.30" x2="361.82" y2="417.30" stroke="#000" stroke-width="0.7"/>
<line x1="370.79" y1="421.30" x2="370.79" y2="417.30" stroke="#000" stroke-width="0.7"/>
<line x1="379.76" y1="421.30" x2="379.76" y2="417.30" stroke="#000" stroke-width="0.7"/>
<line x1="388.73" y1="421.30" x2="388.73" y2="417.30" stroke="#000" stroke-width="0.7"/>
<line x1="397.70" y1="421.30" x2="397.70" y2="417.30" stroke="#000" stroke-width="0.7"/>
<line x1="406.67" y1="421.30" x2="406.67" y2="417.30" stroke="#000" stroke-width="0.7"/>
<line x1="415.64" y1="421.30" x2="415.64" y2="417.30" stroke="#000" stroke-width="0.7"/>
<line x1="424.61" y1="421.30" x2="424.61" y2="417.30" stroke="#000" stroke-width="0.7"/>
<line x1="433.58" y1="421.30" x2="433.58" y2="417.30" stroke="#000" stroke-width="0.7"/>
<line x1="442.55" y1="421.30" x2="442.55" y2="417.30" stroke="#000" stroke-width="0.7"/>
<line x1="451.52" y1="421.30" x2="451.52" y2="417.30" stroke="#000" stroke-width="0.7"/>
<line x1="460.49" y1="421.30" x2="460.49" y2="417.30" stroke="#000" stroke-width="0.7"/>
<line x1="469.46" y1="421.30" x2="469.46" y2="417.30" stroke="#000" stroke-width="0.7"/>
<line x1="478.43" y1="421.30" x2="478.43" y2="417.30" stroke="#000" stroke-width="0.7"/>
<line x1="487.40" y1="421.30" x2="487.40" y2="417.30" stroke="#000" stroke-width="0.7"/>
<line x1="496.37" y1="421.30" x2="496.37" y2="417.30" stroke="#000" stroke-width="0.7"/>
<line x1="308.00" y1="421.30" x2="308.00" y2="413.00" stroke="#000" stroke-width="1.5"/>
<line x1="343.88" y1="421.30" x2="343.88" y2="413.00" stroke="#000" stroke-width="1.5"/>
<line x1="379.76" y1="421.30" x2="379.76" y2="413.00" stroke="#000" stroke-width="1.5"/>
<line x1="415.64" y1="421.30" x2="415.64" y2="413.00" stroke="#000" stroke-width="1.5"/>
<line x1="451.52" y1="421.30" x2="451.52" y2="413.00" stroke="#000" stroke-width="1.5"/>
<line x1="487.40" y1="421.30" x2="487.40" y2="413.00" stroke="#000" stroke-width="1.5"/>
<rect x="307.80" y="256.90" width="190.80" height="164.40" fill="none" stroke="#000" stroke-width="1.0"/>
<rect x="272.72" y="416.91" width="7.80" height="0.95" fill="#000"/>
<text transform="translate(281.92,421.16) scale(0.9650,1)" x="-0.53" y="0" font-size="13.80">0.75</text>
<rect x="272.71" y="391.18" width="7.80" height="0.95" fill="#000"/>
<text transform="translate(281.91,395.43) scale(0.9650,1)" x="-0.53" y="0" font-size="13.80">0.50</text>
<rect x="272.72" y="365.44" width="7.80" height="0.95" fill="#000"/>
<text transform="translate(281.92,369.69) scale(0.9650,1)" x="-0.53" y="0" font-size="13.80">0.25</text>
<text transform="translate(281.91,343.95) scale(0.9650,1)" x="-0.53" y="0" font-size="13.80">0.00</text>
<text transform="translate(281.92,318.21) scale(0.9650,1)" x="-0.53" y="0" font-size="13.80">0.25</text>
<text transform="translate(281.91,292.47) scale(0.9650,1)" x="-0.53" y="0" font-size="13.80">0.50</text>
<text transform="translate(281.92,266.74) scale(0.9650,1)" x="-0.53" y="0" font-size="13.80">0.75</text>
<rect x="295.53" y="429.45" width="7.80" height="0.95" fill="#000"/>
<text transform="translate(304.73,433.70) scale(0.9650,1)" x="-0.53" y="0" font-size="13.80">0.6</text>
<rect x="331.31" y="429.45" width="7.80" height="0.95" fill="#000"/>
<text transform="translate(340.51,433.70) scale(0.9650,1)" x="-0.53" y="0" font-size="13.80">0.4</text>
<rect x="367.46" y="429.45" width="7.80" height="0.95" fill="#000"/>
<text transform="translate(376.66,433.70) scale(0.9650,1)" x="-0.53" y="0" font-size="13.80">0.2</text>
<text transform="translate(407.82,433.70) scale(0.9650,1)" x="-0.53" y="0" font-size="13.80">0.0</text>
<text transform="translate(443.82,433.70) scale(0.9650,1)" x="-0.53" y="0" font-size="13.80">0.2</text>
<text transform="translate(479.43,433.70) scale(0.9650,1)" x="-0.53" y="0" font-size="13.80">0.4</text>
<text transform="translate(386.10,450.70) scale(0.9650,1)" x="-1.17" y="0" font-size="15.72">[</text>
<text transform="translate(389.10,449.50) scale(1.1558,1)" x="-0.54" y="0" font-size="13.10">C/Fe</text>
<text transform="translate(416.80,450.70) scale(1.0000,1)" x="-0.57" y="0" font-size="15.72">]</text>
<g transform="translate(264.20,404.75) rotate(-90)">
<text transform="translate(0.00,0.00) scale(0.9738,1)" x="-0.25" y="0" font-size="12.60">log</text>
<text transform="translate(21.00,0.00) scale(0.8265,1)" x="-0.48" y="0" font-size="12.60">ϵ</text>
<text transform="translate(26.40,0.30) scale(0.9650,1)" x="-0.63" y="0" font-size="14.36">(</text>
<text transform="translate(29.60,0.00) scale(1.2602,1)" x="-0.26" y="0" font-size="12.60">U</text>
<text transform="translate(41.30,0.30) scale(0.9650,1)" x="-0.46" y="0" font-size="14.36">)</text>
<text transform="translate(46.00,2.20) scale(0.9650,1)" x="-0.22" y="0" font-size="10.30">i</text>
<rect x="53.60" y="-4.0" width="7.8" height="0.95" fill="#000"/>
<text transform="translate(67.50,0.00) scale(0.9738,1)" x="-0.25" y="0" font-size="12.60">log</text>
<text transform="translate(88.30,0.00) scale(0.8265,1)" x="-0.48" y="0" font-size="12.60">ϵ</text>
<text transform="translate(93.30,0.30) scale(0.9650,1)" x="-0.63" y="0" font-size="14.36">(</text>
<text transform="translate(96.90,0.00) scale(1.2602,1)" x="-0.26" y="0" font-size="12.60">U</text>
<text transform="translate(108.40,0.30) scale(0.9650,1)" x="-0.46" y="0" font-size="14.36">)</text>
<text transform="translate(113.10,2.20) scale(0.9347,1)" x="-0.49" y="0" font-size="10.30">3859</text>
</g>
</g>
<g>
<rect x="570.10" y="318.66" width="173.90" height="41.18" fill="#cccccc"/>
<line x1="578.20" y1="304.76" x2="578.20" y2="373.74" stroke="#6495ED" stroke-width="1.5"/>
<line x1="574.90" y1="304.76" x2="581.50" y2="304.76" stroke="#6495ED" stroke-width="1.2"/>
<line x1="574.90" y1="373.74" x2="581.50" y2="373.74" stroke="#6495ED" stroke-width="1.2"/>
<line x1="578.20" y1="266.67" x2="578.20" y2="329.47" stroke="#6495ED" stroke-width="1.5"/>
<line x1="574.90" y1="266.67" x2="581.50" y2="266.67" stroke="#6495ED" stroke-width="1.2"/>
<line x1="574.90" y1="329.47" x2="581.50" y2="329.47" stroke="#6495ED" stroke-width="1.2"/>
<rect x="574.00" y="335.05" width="8.4" height="8.4" fill="#6495ED" stroke="#111" stroke-width="1.1"/>
<circle cx="578.20" cy="298.07" r="4.2" fill="#6495ED" stroke="#111" stroke-width="1.1"/>
<line x1="727.80" y1="327.93" x2="727.80" y2="395.87" stroke="#20B2AA" stroke-width="1.5"/>
<line x1="724.50" y1="327.93" x2="731.10" y2="327.93" stroke="#20B2AA" stroke-width="1.2"/>
<line x1="724.50" y1="395.87" x2="731.10" y2="395.87" stroke="#20B2AA" stroke-width="1.2"/>
<line x1="727.80" y1="293.95" x2="727.80" y2="398.96" stroke="#20B2AA" stroke-width="1.5"/>
<line x1="724.50" y1="293.95" x2="731.10" y2="293.95" stroke="#20B2AA" stroke-width="1.2"/>
<line x1="724.50" y1="398.96" x2="731.10" y2="398.96" stroke="#20B2AA" stroke-width="1.2"/>
<rect x="723.60" y="357.70" width="8.4" height="8.4" fill="#20B2AA" stroke="#111" stroke-width="1.1"/>
<circle cx="727.80" cy="346.46" r="4.2" fill="#20B2AA" stroke="#111" stroke-width="1.1"/>
<line x1="670.60" y1="303.22" x2="670.60" y2="375.28" stroke="#DAA520" stroke-width="1.5"/>
<line x1="667.30" y1="303.22" x2="673.90" y2="303.22" stroke="#DAA520" stroke-width="1.2"/>
<line x1="667.30" y1="375.28" x2="673.90" y2="375.28" stroke="#DAA520" stroke-width="1.2"/>
<line x1="670.60" y1="281.60" x2="670.60" y2="363.96" stroke="#DAA520" stroke-width="1.5"/>
<line x1="667.30" y1="281.60" x2="673.90" y2="281.60" stroke="#DAA520" stroke-width="1.2"/>
<line x1="667.30" y1="363.96" x2="673.90" y2="363.96" stroke="#DAA520" stroke-width="1.2"/>
<rect x="666.40" y="335.05" width="8.4" height="8.4" fill="#DAA520" stroke="#111" stroke-width="1.1"/>
<circle cx="670.60" cy="322.78" r="4.2" fill="#DAA520" stroke="#111" stroke-width="1.1"/>
<line x1="735.80" y1="310.94" x2="735.80" y2="398.45" stroke="#F08080" stroke-width="1.5"/>
<line x1="732.50" y1="310.94" x2="739.10" y2="310.94" stroke="#F08080" stroke-width="1.2"/>
<line x1="732.50" y1="398.45" x2="739.10" y2="398.45" stroke="#F08080" stroke-width="1.2"/>
<line x1="735.80" y1="298.07" x2="735.80" y2="390.73" stroke="#F08080" stroke-width="1.5"/>
<line x1="732.50" y1="298.07" x2="739.10" y2="298.07" stroke="#F08080" stroke-width="1.2"/>
<line x1="732.50" y1="390.73" x2="739.10" y2="390.73" stroke="#F08080" stroke-width="1.2"/>
<rect x="731.60" y="350.49" width="8.4" height="8.4" fill="#F08080" stroke="#111" stroke-width="1.1"/>
<circle cx="735.80" cy="344.40" r="4.2" fill="#F08080" stroke="#111" stroke-width="1.1"/>
<line x1="561.90" y1="421.61" x2="565.90" y2="421.61" stroke="#000" stroke-width="0.7"/>
<line x1="561.90" y1="416.46" x2="570.20" y2="416.46" stroke="#000" stroke-width="1.5"/>
<line x1="561.90" y1="411.31" x2="565.90" y2="411.31" stroke="#000" stroke-width="0.7"/>
<line x1="561.90" y1="406.17" x2="565.90" y2="406.17" stroke="#000" stroke-width="0.7"/>
<line x1="561.90" y1="401.02" x2="565.90" y2="401.02" stroke="#000" stroke-width="0.7"/>
<line x1="561.90" y1="395.87" x2="565.90" y2="395.87" stroke="#000" stroke-width="0.7"/>
<line x1="561.90" y1="390.73" x2="570.20" y2="390.73" stroke="#000" stroke-width="1.5"/>
<line x1="561.90" y1="385.58" x2="565.90" y2="385.58" stroke="#000" stroke-width="0.7"/>
<line x1="561.90" y1="380.43" x2="565.90" y2="380.43" stroke="#000" stroke-width="0.7"/>
<line x1="561.90" y1="375.28" x2="565.90" y2="375.28" stroke="#000" stroke-width="0.7"/>
<line x1="561.90" y1="370.13" x2="565.90" y2="370.13" stroke="#000" stroke-width="0.7"/>
<line x1="561.90" y1="364.99" x2="570.20" y2="364.99" stroke="#000" stroke-width="1.5"/>
<line x1="561.90" y1="359.84" x2="565.90" y2="359.84" stroke="#000" stroke-width="0.7"/>
<line x1="561.90" y1="354.69" x2="565.90" y2="354.69" stroke="#000" stroke-width="0.7"/>
<line x1="561.90" y1="349.55" x2="565.90" y2="349.55" stroke="#000" stroke-width="0.7"/>
<line x1="561.90" y1="344.40" x2="565.90" y2="344.40" stroke="#000" stroke-width="0.7"/>
<line x1="561.90" y1="339.25" x2="570.20" y2="339.25" stroke="#000" stroke-width="1.5"/>
<line x1="561.90" y1="334.10" x2="565.90" y2="334.10" stroke="#000" stroke-width="0.7"/>
<line x1="561.90" y1="328.95" x2="565.90" y2="328.95" stroke="#000" stroke-width="0.7"/>
<line x1="561.90" y1="323.81" x2="565.90" y2="323.81" stroke="#000" stroke-width="0.7"/>
<line x1="561.90" y1="318.66" x2="565.90" y2="318.66" stroke="#000" stroke-width="0.7"/>
<line x1="561.90" y1="313.51" x2="570.20" y2="313.51" stroke="#000" stroke-width="1.5"/>
<line x1="561.90" y1="308.37" x2="565.90" y2="308.37" stroke="#000" stroke-width="0.7"/>
<line x1="561.90" y1="303.22" x2="565.90" y2="303.22" stroke="#000" stroke-width="0.7"/>
<line x1="561.90" y1="298.07" x2="565.90" y2="298.07" stroke="#000" stroke-width="0.7"/>
<line x1="561.90" y1="292.92" x2="565.90" y2="292.92" stroke="#000" stroke-width="0.7"/>
<line x1="561.90" y1="287.77" x2="570.20" y2="287.77" stroke="#000" stroke-width="1.5"/>
<line x1="561.90" y1="282.63" x2="565.90" y2="282.63" stroke="#000" stroke-width="0.7"/>
<line x1="561.90" y1="277.48" x2="565.90" y2="277.48" stroke="#000" stroke-width="0.7"/>
<line x1="561.90" y1="272.33" x2="565.90" y2="272.33" stroke="#000" stroke-width="0.7"/>
<line x1="561.90" y1="267.19" x2="565.90" y2="267.19" stroke="#000" stroke-width="0.7"/>
<line x1="561.90" y1="262.04" x2="570.20" y2="262.04" stroke="#000" stroke-width="1.5"/>
<line x1="561.90" y1="256.89" x2="565.90" y2="256.89" stroke="#000" stroke-width="0.7"/>
<line x1="568.10" y1="421.30" x2="568.10" y2="417.30" stroke="#000" stroke-width="0.7"/>
<line x1="588.62" y1="421.30" x2="588.62" y2="417.30" stroke="#000" stroke-width="0.7"/>
<line x1="609.15" y1="421.30" x2="609.15" y2="417.30" stroke="#000" stroke-width="0.7"/>
<line x1="629.68" y1="421.30" x2="629.68" y2="417.30" stroke="#000" stroke-width="0.7"/>
<line x1="650.20" y1="421.30" x2="650.20" y2="417.30" stroke="#000" stroke-width="0.7"/>
<line x1="670.73" y1="421.30" x2="670.73" y2="417.30" stroke="#000" stroke-width="0.7"/>
<line x1="691.25" y1="421.30" x2="691.25" y2="417.30" stroke="#000" stroke-width="0.7"/>
<line x1="711.78" y1="421.30" x2="711.78" y2="417.30" stroke="#000" stroke-width="0.7"/>
<line x1="732.30" y1="421.30" x2="732.30" y2="417.30" stroke="#000" stroke-width="0.7"/>
<line x1="752.83" y1="421.30" x2="752.83" y2="417.30" stroke="#000" stroke-width="0.7"/>
<line x1="568.10" y1="421.30" x2="568.10" y2="413.00" stroke="#000" stroke-width="1.5"/>
<line x1="609.15" y1="421.30" x2="609.15" y2="413.00" stroke="#000" stroke-width="1.5"/>
<line x1="650.20" y1="421.30" x2="650.20" y2="413.00" stroke="#000" stroke-width="1.5"/>
<line x1="691.25" y1="421.30" x2="691.25" y2="413.00" stroke="#000" stroke-width="1.5"/>
<line x1="732.30" y1="421.30" x2="732.30" y2="413.00" stroke="#000" stroke-width="1.5"/>
<rect x="561.90" y="256.90" width="190.50" height="164.40" fill="none" stroke="#000" stroke-width="1.0"/>
<rect x="526.82" y="416.91" width="7.80" height="0.95" fill="#000"/>
<text transform="translate(536.02,421.16) scale(0.9650,1)" x="-0.53" y="0" font-size="13.80">0.75</text>
<rect x="526.81" y="391.18" width="7.80" height="0.95" fill="#000"/>
<text transform="translate(536.01,395.43) scale(0.9650,1)" x="-0.53" y="0" font-size="13.80">0.50</text>
<rect x="526.82" y="365.44" width="7.80" height="0.95" fill="#000"/>
<text transform="translate(536.02,369.69) scale(0.9650,1)" x="-0.53" y="0" font-size="13.80">0.25</text>
<text transform="translate(536.01,343.95) scale(0.9650,1)" x="-0.53" y="0" font-size="13.80">0.00</text>
<text transform="translate(536.02,318.21) scale(0.9650,1)" x="-0.53" y="0" font-size="13.80">0.25</text>
<text transform="translate(536.01,292.47) scale(0.9650,1)" x="-0.53" y="0" font-size="13.80">0.50</text>
<text transform="translate(536.02,266.74) scale(0.9650,1)" x="-0.53" y="0" font-size="13.80">0.75</text>
<text transform="translate(558.95,433.70) scale(0.9650,1)" x="-1.21" y="0" font-size="13.80">120</text>
<text transform="translate(600.00,433.70) scale(0.9650,1)" x="-1.21" y="0" font-size="13.80">140</text>
<text transform="translate(641.05,433.70) scale(0.9650,1)" x="-1.21" y="0" font-size="13.80">160</text>
<text transform="translate(682.10,433.70) scale(0.9650,1)" x="-1.21" y="0" font-size="13.80">180</text>
<text transform="translate(722.86,433.70) scale(0.9650,1)" x="-0.61" y="0" font-size="13.80">200</text>
<text transform="translate(645.85,449.50) scale(1.1766,1)" x="-0.88" y="0" font-size="13.10">S/N</text>
<g transform="translate(518.30,404.75) rotate(-90)">
<text transform="translate(0.00,0.00) scale(0.9738,1)" x="-0.25" y="0" font-size="12.60">log</text>
<text transform="translate(21.00,0.00) scale(0.8265,1)" x="-0.48" y="0" font-size="12.60">ϵ</text>
<text transform="translate(26.40,0.30) scale(0.9650,1)" x="-0.63" y="0" font-size="14.36">(</text>
<text transform="translate(29.60,0.00) scale(1.2602,1)" x="-0.26" y="0" font-size="12.60">U</text>
<text transform="translate(41.30,0.30) scale(0.9650,1)" x="-0.46" y="0" font-size="14.36">)</text>
<text transform="translate(46.00,2.20) scale(0.9650,1)" x="-0.22" y="0" font-size="10.30">i</text>
<rect x="53.60" y="-4.0" width="7.8" height="0.95" fill="#000"/>
<text transform="translate(67.50,0.00) scale(0.9738,1)" x="-0.25" y="0" font-size="12.60">log</text>
<text transform="translate(88.30,0.00) scale(0.8265,1)" x="-0.48" y="0" font-size="12.60">ϵ</text>
<text transform="translate(93.30,0.30) scale(0.9650,1)" x="-0.63" y="0" font-size="14.36">(</text>
<text transform="translate(96.90,0.00) scale(1.2602,1)" x="-0.26" y="0" font-size="12.60">U</text>
<text transform="translate(108.40,0.30) scale(0.9650,1)" x="-0.46" y="0" font-size="14.36">)</text>
<text transform="translate(113.10,2.20) scale(0.9347,1)" x="-0.49" y="0" font-size="10.30">3859</text>
</g>
</g>
<rect x="172.7" y="0.6" width="407.8" height="44.4" rx="3" ry="3" fill="#fff" stroke="#d5d5d5" stroke-width="1"/>
<circle cx="191.4" cy="11.4" r="4.5" fill="#F08080"/>
<circle cx="191.4" cy="30.9" r="4.5" fill="#DAA520"/>
<circle cx="288.2" cy="11.5" r="4.5" fill="#20B2AA"/>
<circle cx="288.2" cy="30.9" r="4.5" fill="#6495ED"/>
<text transform="translate(216.30,16.00) scale(0.9580,1)" x="-0.29" y="0" font-size="13.80">J0954</text>
<text transform="translate(216.30,35.60) scale(0.9672,1)" x="-0.29" y="0" font-size="13.80">J2038</text>
<text transform="translate(313.00,16.10) scale(0.9632,1)" x="-0.40" y="0" font-size="13.80">HE1523</text>
<text transform="translate(313.00,35.60) scale(0.9490,1)" x="-0.57" y="0" font-size="13.80">CS31082</text>
<line x1="401.6" y1="4.5" x2="401.6" y2="18.1" stroke="#000" stroke-width="1.3"/>
<line x1="398.3" y1="4.5" x2="404.9" y2="4.5" stroke="#000" stroke-width="1.2"/>
<line x1="398.3" y1="18.1" x2="404.9" y2="18.1" stroke="#000" stroke-width="1.2"/>
<circle cx="401.6" cy="11.65" r="4.4" fill="#000"/>
<line x1="401.6" y1="24.3" x2="401.6" y2="38.0" stroke="#000" stroke-width="1.3"/>
<line x1="398.3" y1="24.3" x2="404.9" y2="24.3" stroke="#000" stroke-width="1.2"/>
<line x1="398.3" y1="38.0" x2="404.9" y2="38.0" stroke="#000" stroke-width="1.2"/>
<rect x="397.2" y="27.0" width="9.0" height="8.8" fill="#000"/>
<g transform="translate(426.7,15.9)">
<text transform="translate(0.00,0.00) scale(0.9738,1)" x="-0.25" y="0" font-size="12.60">log</text>
<text transform="translate(21.00,0.00) scale(0.8265,1)" x="-0.48" y="0" font-size="12.60">ϵ</text>
<text transform="translate(26.40,0.30) scale(0.9650,1)" x="-0.63" y="0" font-size="14.36">(</text>
<text transform="translate(29.60,0.00) scale(1.2602,1)" x="-0.26" y="0" font-size="12.60">U</text>
<text transform="translate(41.30,0.30) scale(0.9650,1)" x="-0.46" y="0" font-size="14.36">)</text>
<text transform="translate(46.40,2.20) scale(0.8797,1)" x="-0.20" y="0" font-size="10.30">4050</text>
<rect x="70.80" y="-4.0" width="7.8" height="0.95" fill="#000"/>
<text transform="translate(84.70,0.00) scale(0.9738,1)" x="-0.25" y="0" font-size="12.60">log</text>
<text transform="translate(105.50,0.00) scale(0.8265,1)" x="-0.48" y="0" font-size="12.60">ϵ</text>
<text transform="translate(110.50,0.30) scale(0.9650,1)" x="-0.63" y="0" font-size="14.36">(</text>
<text transform="translate(114.10,0.00) scale(1.2602,1)" x="-0.26" y="0" font-size="12.60">U</text>
<text transform="translate(125.60,0.30) scale(0.9650,1)" x="-0.46" y="0" font-size="14.36">)</text>
<text transform="translate(130.30,2.20) scale(0.9347,1)" x="-0.49" y="0" font-size="10.30">3859</text>
</g>
<g transform="translate(426.7,35.5)">
<text transform="translate(0.00,0.00) scale(0.9738,1)" x="-0.25" y="0" font-size="12.60">log</text>
<text transform="translate(21.00,0.00) scale(0.8265,1)" x="-0.48" y="0" font-size="12.60">ϵ</text>
<text transform="translate(26.40,0.30) scale(0.9650,1)" x="-0.63" y="0" font-size="14.36">(</text>
<text transform="translate(29.60,0.00) scale(1.2602,1)" x="-0.26" y="0" font-size="12.60">U</text>
<text transform="translate(41.30,0.30) scale(0.9650,1)" x="-0.46" y="0" font-size="14.36">)</text>
<text transform="translate(46.40,2.20) scale(0.8797,1)" x="-0.20" y="0" font-size="10.30">4090</text>
<rect x="70.80" y="-4.0" width="7.8" height="0.95" fill="#000"/>
<text transform="translate(84.70,0.00) scale(0.9738,1)" x="-0.25" y="0" font-size="12.60">log</text>
<text transform="translate(105.50,0.00) scale(0.8265,1)" x="-0.48" y="0" font-size="12.60">ϵ</text>
<text transform="translate(110.50,0.30) scale(0.9650,1)" x="-0.63" y="0" font-size="14.36">(</text>
<text transform="translate(114.10,0.00) scale(1.2602,1)" x="-0.26" y="0" font-size="12.60">U</text>
<text transform="translate(125.60,0.30) scale(0.9650,1)" x="-0.46" y="0" font-size="14.36">)</text>
<text transform="translate(130.30,2.20) scale(0.9347,1)" x="-0.49" y="0" font-size="10.30">3859</text>
</g>
</svg></body></html>
